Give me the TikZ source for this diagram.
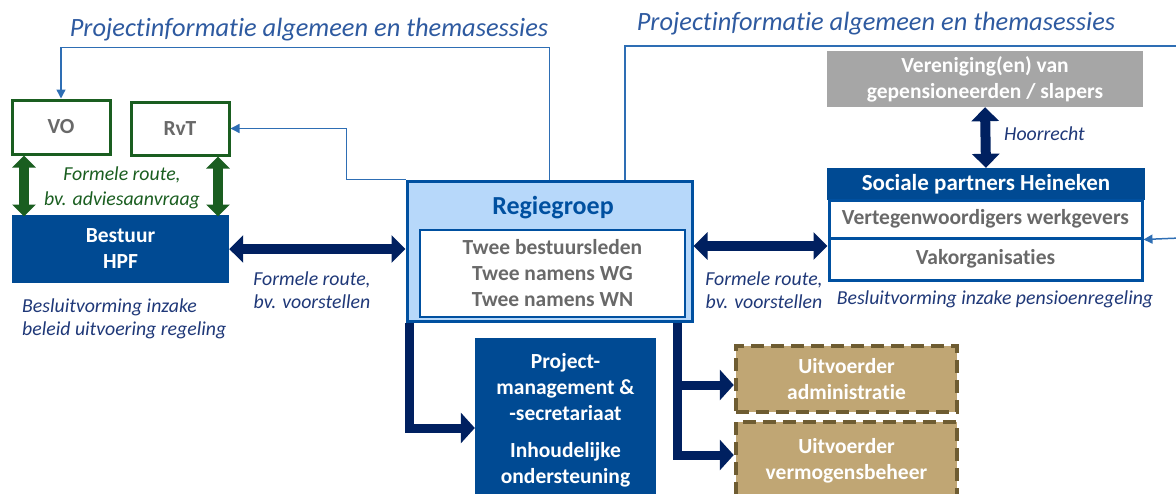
\documentclass[tikz,border=0pt]{standalone}
\usepackage{fontspec}
\setmainfont{Carlito}[Ligatures=NoCommon]
\usetikzlibrary{arrows.meta, positioning}
\definecolor{titleblue}{RGB}{46,90,160}
\definecolor{lineblue}{RGB}{46,110,180}
\definecolor{routegreen}{RGB}{26,94,32}
\definecolor{hpfblue}{RGB}{0,74,147}
\definecolor{navy}{RGB}{0,32,96}
\definecolor{regiefill}{RGB}{183,216,250}
\definecolor{regieline}{RGB}{0,80,160}
\definecolor{boxgray}{RGB}{105,105,105}
\definecolor{slapergray}{RGB}{166,166,166}
\definecolor{tan}{RGB}{192,166,116}
\definecolor{tanline}{RGB}{110,92,50}
\definecolor{notenavy}{RGB}{31,56,120}

\tikzset{
  boldtext/.style={font=\fontsize{21.5}{26}\selectfont\bfseries, align=center, inner sep=0pt},
  greenbox/.style={boldtext, draw=routegreen, line width=3pt, fill=white, text=boxgray, minimum width=98pt, minimum height=54pt},
  filledbox/.style={boldtext, fill=hpfblue, text=white},
  rowbox/.style={boldtext, draw=regieline, line width=3pt, fill=white, text=boxgray, minimum width=313pt},
  uitvbox/.style={boldtext, fill=tan, text=white, draw=tanline, line width=4.5pt, dash pattern=on 13pt off 7pt, minimum width=221pt},
  note/.style={font=\fontsize{19.8}{23.5}\selectfont\itshape, text=notenavy, align=center, inner sep=0pt},
  titletext/.style={font=\fontsize{26.4}{30}\selectfont\itshape, text=titleblue, inner sep=0pt},
  infoline/.style={draw=lineblue, line width=1.5pt},
  greenarrow/.style={draw=routegreen, line width=10pt, {Triangle[width=23pt,length=12pt]}-{Triangle[width=23pt,length=12pt]}},
  navyarrow/.style={draw=navy, line width=10pt, {Triangle[width=27pt,length=14pt]}-{Triangle[width=27pt,length=14pt]}},
  bentarrow/.style={draw=navy, line width=9pt, -{Triangle[width=30pt,length=14pt]}}
}

\begin{document}
\begin{tikzpicture}[x=1pt, y=-1pt]
  \clip (0,0) rectangle (1176,493);

  % titels
  \node[titletext] (titelL) at (309,30) {Projectinformatie algemeen en themasessies};
  \node[titletext] (titelR) at (876,24) {Projectinformatie algemeen en themasessies};

  % linkerkant
  \node[greenbox] (vo) at (61,127) {VO};
  \node[greenbox, minimum height=53pt] (rvt) at (180,128.5) {RvT};
  \node[filledbox, minimum width=217pt, minimum height=68pt] (bestuur) at (120.5,249) {Bestuur\\HPF};
  \node[note, text=routegreen, font=\fontsize{19.8}{25}\selectfont\itshape] (adviesnote) at (122,188) {Formele route,\\bv. adviesaanvraag};
  \node[note, align=left, anchor=west] (beleidnote) at (22,319) {Besluitvorming inzake\\beleid uitvoering regeling};

  % regiegroep
  \node[draw=regieline, line width=3pt, fill=regiefill, minimum width=285pt, minimum height=140pt] (regie) at (549.5,251) {};
  \node[font=\fontsize{26}{30}\selectfont\bfseries, text=regieline, inner sep=0pt] (regietitel) at (553,208) {Regiegroep};
  \node[boldtext, draw=regieline, line width=2.5pt, fill=white, text=boxgray, minimum width=265pt, minimum height=87pt] (leden) at (552.5,273.5) {Twee bestuursleden\\Twee namens WG\\Twee namens WN};
  \node[note] (voorstelL) at (312,290) {Formele route,\\bv. voorstellen};
  \node[note] (voorstelR) at (764,290) {Formele route,\\bv. voorstellen};

  % rechterkant
  \node[boldtext, fill=slapergray, text=white, minimum width=316pt, minimum height=56pt] (vereniging) at (985,79) {Vereniging(en) van\\gepensioneerden / slapers};
  \node[filledbox, font=\fontsize{23}{26}\selectfont\bfseries, minimum width=318pt, minimum height=32pt] (sociale) at (986,184) {Sociale partners Heineken};
  \node[rowbox, minimum height=38pt] (werkgevers) at (985.5,219) {Vertegenwoordigers werkgevers};
  \node[rowbox, minimum height=42pt] (vakorg) at (985.5,259) {Vakorganisaties};
  \node[note, anchor=west] (hoornote) at (1004,134) {Hoorrecht};
  \node[note] (pensioennote) at (995,299) {Besluitvorming inzake pensioenregeling};

  % onderkant
  \node[filledbox, minimum width=181pt, minimum height=164pt] (project) at (565.5,420) {Project-\\management \&\\-secretariaat\\[11pt]Inhoudelijke\\ondersteuning};
  \node[uitvbox, minimum height=66pt] (uadmin) at (846.5,379) {Uitvoerder\\administratie};
  \node[uitvbox, minimum height=78pt] (uverm) at (846.5,461) {Uitvoerder\\vermogensbeheer};

  % dunne lijnen
  \coordinate (randBoven) at (1180,46);
  \coordinate (randRechts) at (1180,238);
  \draw[infoline, -{Triangle[width=9pt,length=9pt]}] (regie.north) -- ++(0,-132) -| (vo.north);
  \draw[infoline, -{Triangle[width=9pt,length=9pt]}] (regie.north west) -- ++(-59,0) |- (rvt.east);
  \draw[infoline] ([xshift=75.5pt]regie.north) |- (randBoven);
  \draw[infoline, -{Triangle[width=9pt,length=9pt]}] (randRechts) -- (werkgevers.south east);

  % dikke pijlen
  \draw[greenarrow] ([xshift=-37pt]vo.south) -- ++(0,61);
  \draw[greenarrow] ([xshift=38pt]rvt.south) -- ++(0,60);
  \draw[navyarrow] (bestuur.east) -- (bestuur.east -| regie.west);
  \path ([yshift=5pt]regie.east) coordinate (regieR);
  \draw[navyarrow] (regieR) -- (regieR -| vakorg.west);
  \draw[navyarrow] (vereniging.south) -- (sociale.north);
  \draw[bentarrow] ([xshift=4pt]regie.south west) |- ([yshift=-8pt]project.west);
  \draw[bentarrow] ([xshift=-16pt]regie.south east) |- ([yshift=-6pt]uadmin.west);
  \draw[bentarrow] ([xshift=-16pt]regie.south east) |- ([yshift=6pt]uverm.west);
\end{tikzpicture}
\end{document}
